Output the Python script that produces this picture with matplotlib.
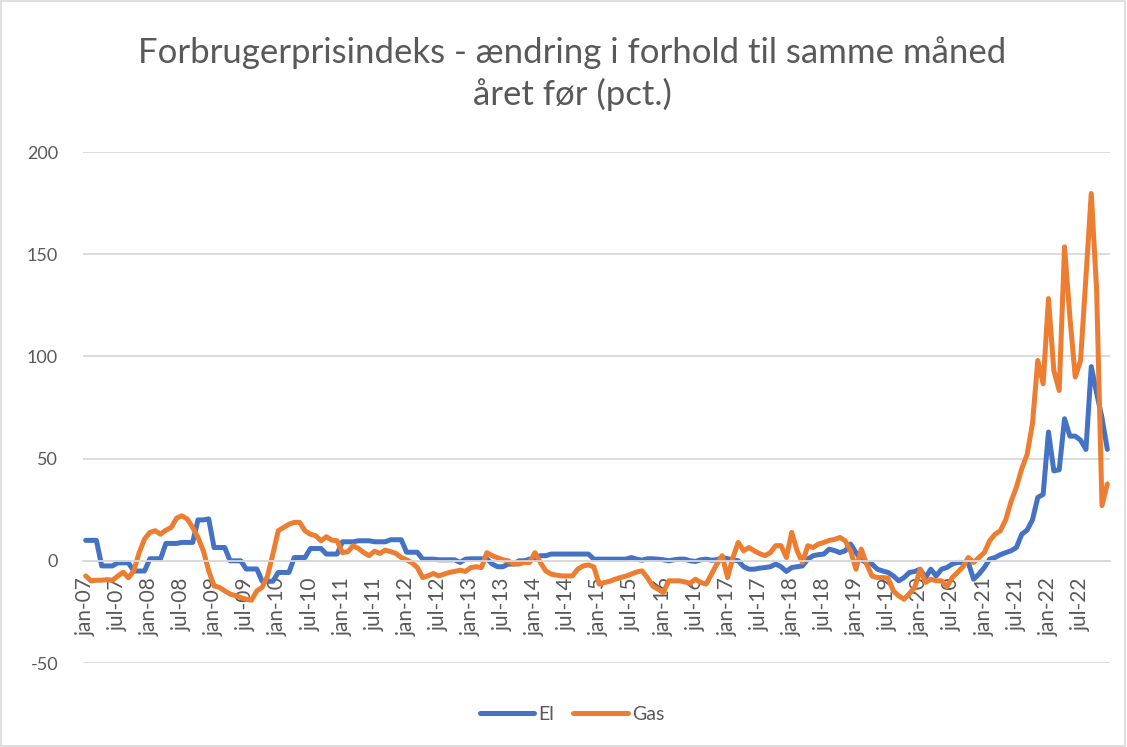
import matplotlib.pyplot as plt
from matplotlib.patches import Rectangle
from matplotlib.lines import Line2D

plt.rcParams['font.family'] = ['Lato', 'DejaVu Sans']
plt.rcParams['axes.unicode_minus'] = False

# monthly values, jan-07 .. dec-22 (pct. change from same month last year)
el = [
    10, 10, 10, -2.5, -2.5, -2.5, -1, -1, -1, -5, -5, -5,
    1, 1, 1, 8.5, 8.5, 8.5, 9, 9, 9, 20, 20, 20.5,
    6.5, 6.5, 6.5, 0, 0, 0, -4, -4, -4, -10, -10, -10,
    -5.7, -5.7, -5.7, 1.6, 1.6, 1.6, 6, 6, 6, 3.3, 3.3, 3.3,
    9.3, 9.3, 9.3, 9.8, 9.8, 9.8, 9.3, 9.3, 9.3, 10.3, 10.3, 10.3,
    4.2, 4.2, 4.2, 0.8, 0.8, 0.8, 0.5, 0.5, 0.5, 0.5, -0.8, 0.8,
    1, 1, 1, 1, -1.6, -2.9, -2.9, -1.6, -1.6, 0, 0, 0.8,
    0.8, 2.5, 2.5, 3.3, 3.3, 3.3, 3.3, 3.3, 3.3, 3.3, 3.3, 0.8,
    0.8, 0.8, 0.8, 0.8, 0.8, 0.8, 1.6, 0.8, 0.3, 1, 1, 0.8,
    0.5, 0, 0.5, 0.8, 0.8, 0, -0.3, 0.5, 0.8, 0.3, 0.5, 1.6,
    1, 0.5, 0, -2.9, -4.1, -4.1, -3.6, -3.3, -2.9, -1.6, -2.9, -5.2,
    -3.3, -2.9, -2.5, 0.8, 2.5, 3, 3.3, 5.7, 5, 4, 4.9, 8.2,
    4, 0.5, -1, -1.6, -4.1, -5, -5.7, -7.4, -9.8, -8.2, -5.7, -5.2,
    -4.1, -8.2, -4.1, -7.4, -4.1, -3.3, -1.6, -0.8, -0.8, -0.8, -9, -6.5,
    -3.3, 0.8, 1.6, 3, 4, 4.9, 6.5, 13, 15, 20, 31, 32.5,
    63, 44, 44.5, 69.5, 61, 61, 59, 54.5, 95, 82, 70, 54.5,
]

gas = [
    -7.4, -9.8, -9.5, -9.5, -9.2, -9.5, -7.5, -5.6, -8.3, -4.9, 4, 10.6,
    13.9, 14.7, 13, 15, 16.3, 20.9, 22, 20.4, 16.3, 11.4, 4.9, -4.9,
    -12.3, -13, -14.7, -16.3, -17, -18, -18.8, -19.3, -14.7, -13, -7.4, 3.3,
    14.7, 16.3, 17.9, 18.8, 18.8, 14.7, 13, 12.3, 9.8, 11.8, 10.1, 9.8,
    4, 4.4, 7.4, 6, 4, 2.5, 4.7, 3.6, 5.2, 4.5, 3.6, 1.6,
    0.5, -1, -3.3, -8.2, -7.4, -6.2, -7.4, -6.5, -5.7, -5.2, -4.6, -5.2,
    -3.3, -2.9, -3.3, 4, 2.5, 1.5, 0.5, 0, -1.6, -1.6, -0.8, -0.8,
    4, -0.8, -4.9, -6.5, -7, -7.4, -7.4, -7.4, -4.1, -2.5, -2, -3,
    -11.4, -10.6, -10, -9, -8.2, -7.5, -6.5, -5.5, -4.9, -8.2, -12.3, -13.9,
    -15.5, -9.8, -9.8, -9.8, -10.3, -11, -9, -10.6, -11.4, -6.5, -1.6, 2.5,
    -8.2, 1.6, 9, 4.9, 6.5, 4.9, 3.5, 2.5, 4, 7.4, 7.4, 1.6,
    13.9, 4.9, -0.8, 7.4, 6.5, 8.2, 9, 10, 10.5, 11.4, 9.8, 4.9,
    -4.1, 5.7, -1.6, -7.4, -8.2, -8.2, -8.5, -14.7, -17.2, -18.8, -16, -13,
    -4.1, -10.6, -9, -9.8, -9.8, -12.7, -8.2, -5.7, -2.9, 1.6, -0.8, 1.6,
    4, 9.8, 13, 14.7, 20, 29, 36, 45, 52, 67, 98, 86.6,
    128.3, 93, 83.3, 153.6, 119.3, 89.9, 98, 138.9, 179.7, 132.4, 27, 37.6,
]

tick_labels = [
    "jan-07", "jul-07", "jan-08", "jul-08", "jan-09", "jul-09", "jan-10", "jul-10",
    "jan-11", "jul-11", "jan-12", "jul-12", "jan-13", "jul-13", "jan-14", "jul-14",
    "jan-15", "jul-15", "jan-16", "jul-16", "jan-17", "jul-17", "jan-18", "jul-18",
    "jan-19", "jul-19", "jan-20", "jul-20", "jan-21", "jul-21", "jan-22", "jul-22",
]

BLUE = "#4472C4"
ORANGE = "#ED7D31"
GREY = "#595959"
GRID = "#D9D9D9"

fig = plt.figure(figsize=(11.27, 7.47), dpi=100)
ax = fig.add_axes([83 / 1127, 1 - 663 / 747, (1110 - 83) / 1127, (663 - 152) / 747])

months = list(range(len(el)))
ax.plot(months, el, color=BLUE, lw=3.6, solid_capstyle="round", solid_joinstyle="round", label="El")
ax.plot(months, gas, color=ORANGE, lw=3.6, solid_capstyle="round", solid_joinstyle="round", label="Gas")

ax.set_xlim(-0.5, len(el) - 0.5)
ax.set_ylim(-50, 200)
ax.set_yticks([-50, 0, 50, 100, 150, 200])
ax.yaxis.grid(True, color=GRID, lw=1.3)
ax.tick_params(axis="y", length=0, pad=18, labelsize=13, labelcolor=GREY)

ax.set_xticks(range(0, len(el), 6))
ax.set_xticklabels(tick_labels)
ax.tick_params(axis="x", length=0, pad=12, labelsize=15, labelcolor=GREY, labelrotation=90)
for lab in ax.get_xticklabels():
    lab.set_verticalalignment("top")
    lab.set_horizontalalignment("center")

for side in ["left", "right", "top"]:
    ax.spines[side].set_visible(False)
ax.spines["bottom"].set_position(("data", 0))
ax.spines["bottom"].set_color(GRID)
ax.spines["bottom"].set_linewidth(1.3)

fig.text(0.5075, 1 - 73.5 / 747,
         "Forbrugerprisindeks - ændring i forhold til samme måned\nåret før (pct.)",
         ha="center", va="center", fontsize=25, color=GREY, linespacing=1.3)

handles = [Line2D([], [], color=BLUE, lw=3.6, solid_capstyle="round"),
           Line2D([], [], color=ORANGE, lw=3.6, solid_capstyle="round")]
fig.legend(handles, ["El", "Gas"], loc="center", bbox_to_anchor=(572 / 1127, 1 - 714 / 747),
           ncol=2, frameon=False, fontsize=14, labelcolor=GREY,
           handlelength=2.8, handletextpad=0.2, columnspacing=1.0)

fig.patches.append(Rectangle((0.001, 0.001), 0.997, 0.997, transform=fig.transFigure,
                             fill=False, edgecolor=GRID, lw=1.2))

fig.savefig("out.png", dpi=100)
